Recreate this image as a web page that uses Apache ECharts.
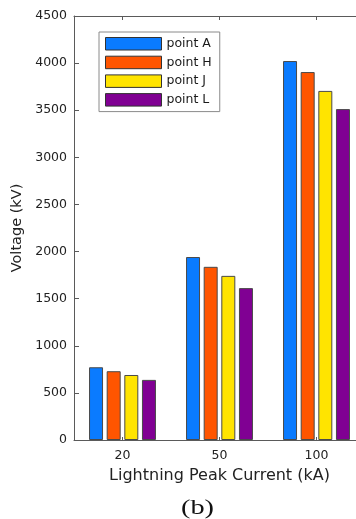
<!DOCTYPE html>
<html>
<head>
<meta charset="utf-8">
<script src="https://cdn.jsdelivr.net/npm/echarts@6/dist/echarts.min.js"></script>
<style>
  html, body { margin: 0; padding: 0; background: #ffffff; }
  #chart { width: 356px; height: 519px; }
</style>
</head>
<body>
<div id="chart"></div>
<script>
// Peak current categories (kA)
const categories = ['20', '50', '100'];

// Voltage at each observation point (kV)
const pointA = [772, 1942, 4022];
const pointH = [730, 1838, 3905];
const pointJ = [690, 1742, 3705];
const pointL = [638, 1612, 3512];

const seriesNames = ['point A', 'point H', 'point J', 'point L'];
const seriesValues = [pointA, pointH, pointJ, pointL];
const seriesColors = ['#0a7bff', '#ff5500', '#ffe400', '#800093'];

// Voltage axis range
const yMin = 0;
const yMax = 4500;
const yStep = 500;

const axisGrey = '#5a5a5a';
const labelColor = '#222222';
const sansFont = 'DejaVu Sans';

const chart = echarts.init(document.getElementById('chart'), null, { renderer: 'canvas' });

const series = seriesNames.map((name, i) => ({
  name: name,
  type: 'bar',
  xAxisIndex: 0,
  data: seriesValues[i],
  barWidth: 14,
  barGap: '26%',
  itemStyle: {
    color: seriesColors[i],
    borderColor: '#4a4a4a',
    borderWidth: 1
  },
  emphasis: { disabled: true }
}));

chart.setOption({
  animation: false,
  backgroundColor: '#ffffff',
  grid: {
    left: 74,
    top: 16,
    right: -9,
    bottom: 79,
    outerBoundsMode: 'none'
  },
  legend: {
    orient: 'vertical',
    left: 99,
    top: 32,
    padding: [5, 8, 5, 6],
    itemWidth: 56,
    itemHeight: 12.5,
    itemGap: 5.2,
    icon: 'rect',
    borderColor: '#8a8a8a',
    borderWidth: 1,
    backgroundColor: '#ffffff',
    data: seriesNames,
    itemStyle: { borderColor: '#333333', borderWidth: 1 },
    textStyle: {
      fontFamily: sansFont,
      fontSize: 12.5,
      lineHeight: 12.5,
      color: '#1a1a1a'
    }
  },
  xAxis: [
    {
      type: 'category',
      position: 'bottom',
      data: categories,
      name: 'Lightning Peak Current (kA)',
      nameLocation: 'middle',
      nameGap: 28,
      nameTextStyle: { fontFamily: sansFont, fontSize: 16, color: labelColor },
      axisLine: { show: true, lineStyle: { color: axisGrey, width: 1 } },
      axisTick: { show: true, inside: true, length: 3, alignWithLabel: true, lineStyle: { color: axisGrey } },
      axisLabel: { margin: 9, fontFamily: sansFont, fontSize: 12.5, color: labelColor },
      splitLine: { show: false }
    },
    {
      type: 'category',
      position: 'top',
      data: categories,
      axisLine: { show: true, onZero: false, lineStyle: { color: axisGrey, width: 1 } },
      axisTick: { show: true, inside: true, length: 4, alignWithLabel: true, lineStyle: { color: axisGrey } },
      axisLabel: { show: false },
      splitLine: { show: false }
    }
  ],
  yAxis: {
    type: 'value',
    min: yMin,
    max: yMax,
    interval: yStep,
    name: 'Voltage (kV)',
    nameLocation: 'middle',
    nameGap: 47,
    nameTextStyle: { fontFamily: sansFont, fontSize: 14.5, color: labelColor },
    axisLine: { show: true, lineStyle: { color: axisGrey, width: 1 } },
    axisTick: { show: true, inside: true, length: 5, lineStyle: { color: axisGrey } },
    axisLabel: {
      margin: 7,
      fontFamily: sansFont,
      fontSize: 12.5,
      color: labelColor,
      formatter: (v) => String(v)
    },
    splitLine: { show: false }
  },
  graphic: [
    {
      type: 'text',
      x: 197.5,
      y: 508,
      scaleX: 1.35,
      style: {
        text: '(b)',
        fontFamily: 'Liberation Serif',
        fontSize: 21,
        fill: '#111111',
        textAlign: 'center',
        textVerticalAlign: 'middle'
      }
    }
  ],
  series: series
});
</script>
</body>
</html>
